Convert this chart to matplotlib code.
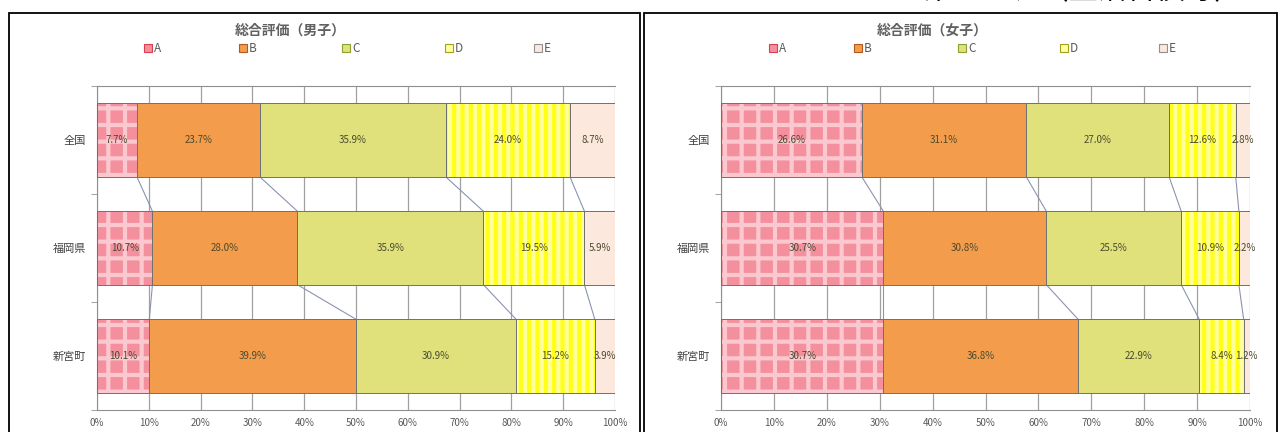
import numpy as np
import matplotlib
matplotlib.use("Agg")
import matplotlib.pyplot as plt
from matplotlib.patches import Rectangle

plt.rcParams['font.family'] = ['Noto Sans CJK JP', 'DejaVu Sans']
plt.rcParams['hatch.linewidth'] = 3

# 総合評価 A〜E の割合 (%)
grades = ['A', 'B', 'C', 'D', 'E']
areas = ['全国', '福岡県', '新宮町']

boys_A = [7.7, 10.7, 10.1]
boys_B = [23.7, 28.0, 39.9]
boys_C = [35.9, 35.9, 30.9]
boys_D = [24.0, 19.5, 15.2]
boys_E = [8.7, 5.9, 3.9]

girls_A = [26.6, 30.7, 30.7]
girls_B = [31.1, 30.8, 36.8]
girls_C = [27.0, 25.5, 22.9]
girls_D = [12.6, 10.9, 8.4]
girls_E = [2.8, 2.2, 1.2]

x_ticks = [0, 10, 20, 30, 40, 50, 60, 70, 80, 90, 100]

# 塗り, ハッチ色, ハッチ
styles = [
    ('#f4909e', '#fac8ce', '+'),
    ('#f39c4c', None, None),
    ('#e1e17c', None, None),
    ('#ffff9c', '#ffff18', '||'),
    ('#fce8dc', None, None),
]
legend_edges = ['#d84050', '#b05a20', '#8aa030', '#a0a020', '#909090']

W, H = 1285, 432
fig = plt.figure(figsize=(W / 100, H / 100), dpi=100)


def fx(px):
    return px / W


def fy(py):
    return 1 - py / H


def draw_panel(rect, series, title, title_x, legend_xs):
    ax = fig.add_axes(rect)
    h = 0.68
    y = np.arange(len(areas))
    left = np.zeros(len(areas))
    bounds = []
    for vals, (fc, hc, hatch) in zip(series, styles):
        vals = np.array(vals)
        if hatch:
            ax.barh(y, vals, h, left=left, color=fc, edgecolor=hc, hatch=hatch,
                    linewidth=0, zorder=2)
        else:
            ax.barh(y, vals, h, left=left, color=fc, linewidth=0, zorder=2)
        ax.barh(y, vals, h, left=left, fill=False, edgecolor='#707070',
                linewidth=0.7, zorder=3)
        for yi, l, v in zip(y, left, vals):
            ax.text(l + v / 2, yi, f'{v:.1f}%', ha='center', va='center',
                    fontsize=7, color='#4a4a30', zorder=4)
        left = left + vals
        bounds.append(left.copy())

    # 区分線
    for b in bounds[:-1]:
        for j in range(len(areas) - 1):
            ax.plot([b[j], b[j + 1]], [y[j] + h / 2, y[j + 1] - h / 2],
                    color='#8b93b3', linewidth=0.8, zorder=1)

    ax.set_xlim(0, 100)
    ax.set_ylim(len(areas) - 0.5, -0.5)
    ax.set_xticks(x_ticks)
    ax.set_xticklabels([f'{t}%' for t in x_ticks], fontsize=7, color='#595959')
    ax.tick_params(axis='x', length=0, pad=6)
    ax.set_yticks(y)
    ax.set_yticklabels(areas, fontsize=8, color='#404040')
    ax.tick_params(axis='y', length=0, pad=8)
    ax.set_yticks([-0.5, 0.5, 1.5, 2.5], minor=True)
    ax.tick_params(axis='y', which='minor', length=4, color='#909090')
    ax.grid(axis='x', color='#a0a0a0', linewidth=0.9, zorder=0)
    ax.set_axisbelow(True)
    for s in ['top', 'bottom', 'left']:
        ax.spines[s].set_color('#909090')
    ax.spines['right'].set_visible(False)

    fig.text(fx(title_x), fy(31), title, ha='center', va='center',
             fontsize=10, color='#606060', fontweight='bold')
    for g, lx, (fc, hc, hatch), ec in zip(grades, legend_xs, styles, legend_edges):
        fig.patches.append(Rectangle((fx(lx - 4), fy(52)), fx(8), 8 / H,
                                     facecolor=fc, edgecolor=ec, linewidth=0.8,
                                     transform=fig.transFigure))
        fig.text(fx(lx + 6), fy(48), g, ha='left', va='center',
                 fontsize=8.5, color='#595959')
    return ax


boys = [boys_A, boys_B, boys_C, boys_D, boys_E]
girls = [girls_A, girls_B, girls_C, girls_D, girls_E]

draw_panel([fx(97), fy(410), fx(615 - 97), (410 - 86) / H], boys,
           '総合評価（男子）', 290, [148, 243, 346, 449, 538])
draw_panel([fx(721), fy(410), fx(1250 - 721), (410 - 86) / H], girls,
           '総合評価（女子）', 932, [773, 858, 962, 1064, 1163])

# 枠
for x0, x1 in [(9, 640), (644, 1277)]:
    fig.patches.append(Rectangle((fx(x0), -0.05), fx(x1 - x0), fy(12.5) + 0.05,
                                 fill=False, edgecolor='black', linewidth=1.3,
                                 transform=fig.transFigure))

# 上端で切れている見出し
fig.text(fx(923), fy(6), '第１２、（生活習慣等）２１', ha='left', va='bottom',
         fontsize=21, color='black')

fig.savefig('out.png', dpi=100)
